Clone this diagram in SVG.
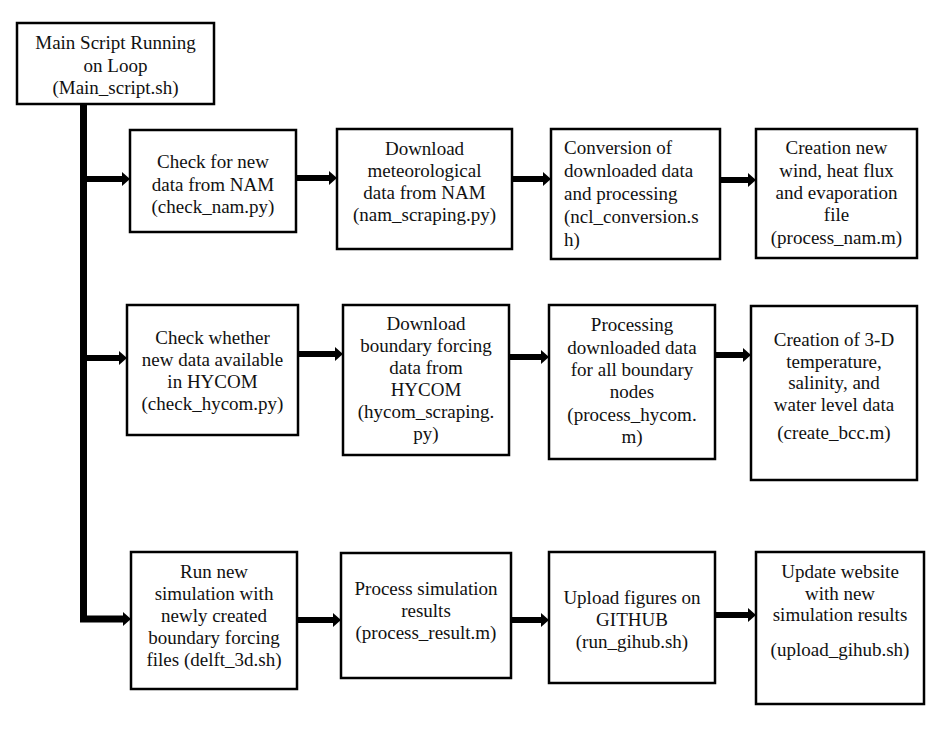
<svg xmlns="http://www.w3.org/2000/svg" width="937" height="735" viewBox="0 0 937 735">
<style>
.box{fill:#fff;stroke:#000;stroke-width:2.5}
text{font-family:"Liberation Serif","Times New Roman",serif;font-size:19px;fill:#111}
.c{text-anchor:middle}
.conn{fill:none;stroke:#000;stroke-width:6}
.trunk{fill:none;stroke:#000;stroke-width:7}
</style>
<defs>
<marker id="ah" markerUnits="userSpaceOnUse" markerWidth="8" markerHeight="14" viewBox="0 0 8 14" refX="0" refY="7" orient="auto">
<path d="M0,0 L8,7 L0,14 z" fill="#000"/>
</marker>
</defs>
<rect width="937" height="735" fill="#fff"/>
<g id="connectors">
<path class="trunk" d="M83.5,104 V619 H123" marker-end="url(#ah)"/>
<path class="conn" d="M87,179 H122" marker-end="url(#ah)"/>
<path class="conn" d="M296,178 H329" marker-end="url(#ah)"/>
<path class="conn" d="M512,179 H543" marker-end="url(#ah)"/>
<path class="conn" d="M720,180 H748" marker-end="url(#ah)"/>
<path class="conn" d="M87,358 H119" marker-end="url(#ah)"/>
<path class="conn" d="M298,354 H335" marker-end="url(#ah)"/>
<path class="conn" d="M509,357 H541" marker-end="url(#ah)"/>
<path class="conn" d="M715,355 H743" marker-end="url(#ah)"/>
<path class="conn" d="M297,620 H333" marker-end="url(#ah)"/>
<path class="conn" d="M511,620 H541" marker-end="url(#ah)"/>
<path class="conn" d="M715,615 H748" marker-end="url(#ah)"/>
</g>
<g id="main">
<rect class="box" x="17" y="23" width="197" height="81"/>
<text class="c" x="115.5" y="49">Main Script Running</text>
<text class="c" x="115.5" y="71.5">on Loop</text>
<text class="c" x="115.5" y="94">(Main_script.sh)</text>
</g>
<g id="check_nam">
<rect class="box" x="130" y="130" width="166" height="102"/>
<text class="c" x="213" y="168">Check for new</text>
<text class="c" x="213" y="190.5">data from NAM</text>
<text class="c" x="213" y="213">(check_nam.py)</text>
</g>
<g id="nam_scraping">
<rect class="box" x="337" y="129" width="175" height="120"/>
<text class="c" x="424.5" y="155">Download</text>
<text class="c" x="424.5" y="177">meteorological</text>
<text class="c" x="424.5" y="199">data from NAM</text>
<text class="c" x="424.5" y="221">(nam_scraping.py)</text>
</g>
<g id="ncl_conversion">
<rect class="box" x="551" y="129" width="169" height="130"/>
<text x="564" y="154">Conversion of</text>
<text x="564" y="177">downloaded data</text>
<text x="564" y="200">and processing</text>
<text x="564" y="223">(ncl_conversion.s</text>
<text x="564" y="246">h)</text>
</g>
<g id="process_nam">
<rect class="box" x="756" y="129" width="161" height="129"/>
<text class="c" x="836.5" y="154">Creation new</text>
<text class="c" x="836.5" y="177">wind, heat flux</text>
<text class="c" x="836.5" y="199">and evaporation</text>
<text class="c" x="836.5" y="221">file</text>
<text class="c" x="836.5" y="244">(process_nam.m)</text>
</g>
<g id="check_hycom">
<rect class="box" x="127" y="305" width="171" height="130"/>
<text class="c" x="212.5" y="344">Check whether</text>
<text class="c" x="212.5" y="366">new data available</text>
<text class="c" x="212.5" y="388">in HYCOM</text>
<text class="c" x="212.5" y="410">(check_hycom.py)</text>
</g>
<g id="hycom_scraping">
<rect class="box" x="343" y="305" width="166" height="150"/>
<text class="c" x="426" y="330">Download</text>
<text class="c" x="426" y="352">boundary forcing</text>
<text class="c" x="426" y="374">data from</text>
<text class="c" x="426" y="396">HYCOM</text>
<text class="c" x="426" y="418">(hycom_scraping.</text>
<text class="c" x="426" y="440">py)</text>
</g>
<g id="process_hycom">
<rect class="box" x="549" y="305" width="166" height="154"/>
<text class="c" x="632" y="331">Processing</text>
<text class="c" x="632" y="354">downloaded data</text>
<text class="c" x="632" y="376">for all boundary</text>
<text class="c" x="632" y="398">nodes</text>
<text class="c" x="632" y="421">(process_hycom.</text>
<text class="c" x="632" y="443">m)</text>
</g>
<g id="create_bcc">
<rect class="box" x="751" y="306" width="166" height="174"/>
<text class="c" x="834" y="346">Creation of 3-D</text>
<text class="c" x="834" y="368">temperature,</text>
<text class="c" x="834" y="389">salinity, and</text>
<text class="c" x="834" y="411">water level data</text>
<text class="c" x="834" y="439">(create_bcc.m)</text>
</g>
<g id="delft_3d">
<rect class="box" x="131" y="552" width="166" height="137"/>
<text class="c" x="214" y="578">Run new</text>
<text class="c" x="214" y="600">simulation with</text>
<text class="c" x="214" y="622">newly created</text>
<text class="c" x="214" y="644">boundary forcing</text>
<text class="c" x="214" y="666">files (delft_3d.sh)</text>
</g>
<g id="process_result">
<rect class="box" x="341" y="553" width="170" height="125"/>
<text class="c" x="426" y="595">Process simulation</text>
<text class="c" x="426" y="617">results</text>
<text class="c" x="426" y="639">(process_result.m)</text>
</g>
<g id="run_github">
<rect class="box" x="549" y="552" width="166" height="131"/>
<text class="c" x="632" y="604">Upload figures on</text>
<text class="c" x="632" y="626">GITHUB</text>
<text class="c" x="632" y="648">(run_gihub.sh)</text>
</g>
<g id="upload_github">
<rect class="box" x="756" y="552" width="168" height="152"/>
<text class="c" x="840" y="578">Update website</text>
<text class="c" x="840" y="600">with new</text>
<text class="c" x="840" y="621">simulation results</text>
<text class="c" x="840" y="656">(upload_gihub.sh)</text>
</g>
</svg>
